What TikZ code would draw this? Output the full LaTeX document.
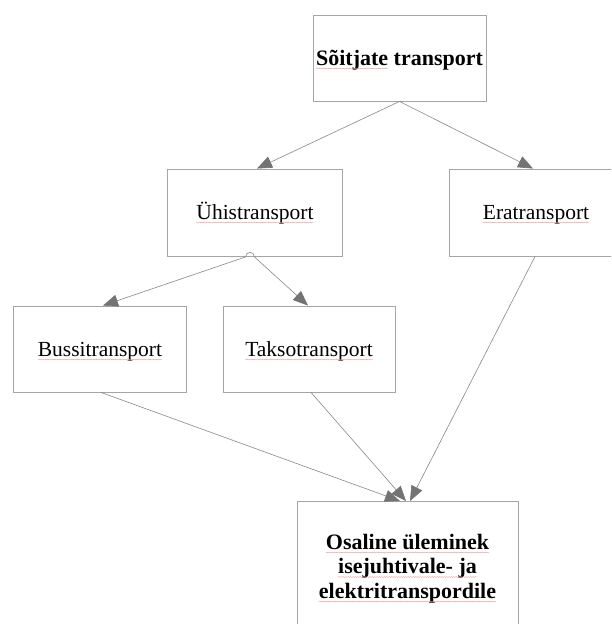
\documentclass[tikz,border=0pt]{standalone}
\usepackage{fontspec}
\setmainfont{Liberation Serif}
\usetikzlibrary{arrows.meta,decorations.pathmorphing}
\definecolor{boxgray}{RGB}{165,165,165}
\definecolor{linegray}{RGB}{135,135,135}
\definecolor{tipgray}{RGB}{115,115,115}
\definecolor{squigred}{RGB}{235,150,150}
\begin{document}
\begin{tikzpicture}[x=1pt,y=-1pt,
 box/.style={draw=boxgray, line width=0.9pt, rectangle, inner sep=0pt, fill=white},
 lbl/.style={inner sep=0pt, font=\fontsize{21.5}{24}\selectfont, anchor=base},
 blbl/.style={inner sep=0pt, font=\fontsize{22}{25}\selectfont\bfseries, anchor=base},
 conn/.style={draw=linegray, line width=0.6pt, -{Triangle[length=15pt,width=12pt,color=tipgray,fill=tipgray]}},
 plainline/.style={draw=linegray, line width=0.6pt},
 squig/.style={draw=squigred, line width=0.35pt, decorate, decoration={snake,amplitude=0.5pt,segment length=2.4pt}}]
\useasboundingbox (0,0) rectangle (611,624);
\begin{scope}
\clip (0,0) rectangle (611,624);
% boxes
\node[box, minimum width=173pt, minimum height=86pt] (top) at (399.5,58) {};
\node[box, minimum width=175pt, minimum height=87pt] (ubox) at (254.5,212.5) {};
\node[box, minimum width=174pt, minimum height=87pt] (ebox) at (536,212.5) {};
\node[box, minimum width=173pt, minimum height=86pt] (bbox) at (99.5,349) {};
\node[box, minimum width=172pt, minimum height=86pt] (tbox) at (309,349) {};
\node[box, minimum width=221pt, minimum height=128pt] (obox) at (407.5,565.5) {};
% texts
\node[blbl] (ttop) at (399.5,65) {Sõitjate transport};
\node[lbl] (tu) at (255,219) {Ühistransport};
\node[lbl] (te) at (536,219) {Eratransport};
\node[lbl] (tb) at (100,356) {Bussitransport};
\node[lbl] (tt) at (309,356) {Taksotransport};
\node[blbl] (to1) at (407.5,549) {Osaline üleminek};
\node[blbl] (to2) at (407.5,573.5) {isejuhtivale- ja};
\node[blbl] (to3) at (407.5,598) {elektritranspordile};
% spell-check squiggles
\draw[squig] ([yshift=-3.5pt]ttop.base west) -- ++(72,0);
\draw[squig] ([yshift=-3.5pt]tu.base west) -- ([yshift=-3.5pt]tu.base east);
\draw[squig] ([yshift=-3.5pt]te.base west) -- ([yshift=-3.5pt]te.base east);
\draw[squig] ([yshift=-3.5pt]tb.base west) -- ([yshift=-3.5pt]tb.base east);
\draw[squig] ([yshift=-3.5pt]tt.base west) -- ([yshift=-3.5pt]tt.base east);
\draw[squig] ([yshift=-3.5pt]to1.base west) -- ([yshift=-3.5pt]to1.base east);
\draw[squig] ([yshift=-3.5pt]to2.base west) -- ([yshift=-3.5pt]to2.base east);
\draw[squig] ([yshift=-3.5pt]to3.base west) -- ([yshift=-3.5pt]to3.base east);
% connectors
\coordinate (hl) at ([xshift=-9pt,yshift=-0.5pt]ubox.south);
\coordinate (hr) at ([xshift=0pt,yshift=-0.5pt]ubox.south);
\draw[conn] (top.south) -- ([xshift=2.5pt]ubox.north);
\draw[conn] (top.south) -- ([xshift=-3pt]ebox.north);
\draw[plainline] (hl) .. controls +(0,-6) and +(0,-6) .. (hr);
\draw[conn] (hl) -- ([xshift=3.5pt]bbox.north);
\draw[conn] (hr) -- ([xshift=-1pt]tbox.north);
\draw[conn] ([xshift=1.5pt]bbox.south) -- ([xshift=-7.5pt]obox.north);
\draw[conn] ([xshift=2pt]tbox.south) -- ([xshift=-1.5pt]obox.north);
\draw[conn] ([xshift=-1pt]ebox.south) -- ([xshift=2.5pt]obox.north);
\end{scope}
\end{tikzpicture}
\end{document}
